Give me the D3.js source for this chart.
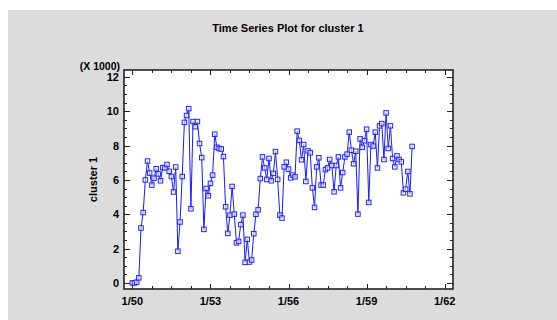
<!DOCTYPE html>
<html>
<head>
<meta charset="utf-8">
<script src="https://cdn.jsdelivr.net/npm/d3@7"></script>
<style>
  html, body { margin: 0; padding: 0; background: #ffffff; }
  svg { display: block; }
  text { font-family: "Liberation Sans", Arial, sans-serif; font-weight: bold; fill: #000; }
</style>
</head>
<body>
<svg id="chart" width="557" height="320"></svg>
<script>
// Monthly observations starting January 1950
const startYear = 1950;
const clusterValues = [
  0, 0, 50, 300, 3200, 4100, 6000, 7100, 6400, 5700, 6100, 6650,
  6350, 5950, 6720, 6700, 6900, 6500, 6200, 5300, 6750, 1850, 3550, 6200,
  9350, 9750, 10150, 4320, 9400, 9100, 9400, 8120, 7300, 3120, 5500, 5080,
  5800, 6280, 8660, 7900, 7830, 7800, 7360, 4440, 2890, 3950, 5620, 4010,
  2340, 2420, 3400, 3950, 1200, 2540, 1220, 1340, 2870, 4000, 4260, 6080,
  7340, 6700, 6030, 7250, 5950, 6380, 7650, 6030, 3950, 3780, 6760, 7030,
  6630, 6120, 6280, 6180, 8840, 8300, 7170, 8060, 5910, 7690, 7580, 5540,
  4400, 6760, 7290, 5700, 5700, 6600, 6700, 7190, 6840, 5310, 6840, 7340,
  5540, 6430, 7340, 7500, 8780, 7730, 6940, 7670, 4010, 8390, 7900, 8280,
  8950, 4690, 8060, 7970, 8780, 6700, 9150, 9280, 7190, 9900, 7830, 9150,
  7250, 6760, 7400, 7190, 7050, 5250, 5460, 6490, 5190, 7950
];
const xTickYears = [1950, 1953, 1956, 1959, 1962];
const xTickLabels = ["1/50", "1/53", "1/56", "1/59", "1/62"];
const yTickValues = [0, 2000, 4000, 6000, 8000, 10000, 12000];

const titleText = "Time Series Plot for cluster 1";
const yAxisTitle = "cluster 1";
const yScaleNote = "(X 1000)";

const series = clusterValues.map((v, i) => ({ t: startYear + i / 12, v }));

const svg = d3.select("#chart");
const W = 557, H = 320;
const plot = { left: 124, right: 453, top: 70, bottom: 289 };

// panel background
svg.append("rect").attr("x", 8).attr("y", 10).attr("width", W - 8).attr("height", H - 10)
  .attr("fill", "#dcdcdc");

const x = d3.scaleLinear().domain([1949.68, 1962.32]).range([plot.left, plot.right]);
const y = d3.scaleLinear().domain([-350, 12400]).range([plot.bottom, plot.top]);

// plotting area
svg.append("rect")
  .attr("x", plot.left).attr("y", plot.top)
  .attr("width", plot.right - plot.left).attr("height", plot.bottom - plot.top)
  .attr("fill", "#ffffff");

const xMinor = d3.range(1950, 1962.01, 0.75);
const yMinor = d3.range(0, 12001, 500);

const tickColor = "#222";
const ticks = svg.append("g").attr("stroke", tickColor).attr("stroke-width", 1);

// x ticks (bottom and top, pointing inward)
xMinor.forEach(t => {
  const major = xTickYears.some(m => Math.abs(m - t) < 1e-6);
  const len = major ? 5 : 3;
  const px = Math.round(x(t)) + 0.5;
  ticks.append("line").attr("x1", px).attr("x2", px).attr("y1", plot.bottom).attr("y2", plot.bottom - len);
  ticks.append("line").attr("x1", px).attr("x2", px).attr("y1", plot.top).attr("y2", plot.top + len);
});
// y ticks (left and right, pointing inward)
yMinor.forEach(v => {
  const major = v % 2000 === 0;
  const len = major ? 6 : 3;
  const py = Math.round(y(v)) + 0.5;
  ticks.append("line").attr("x1", plot.left).attr("x2", plot.left + len).attr("y1", py).attr("y2", py);
  ticks.append("line").attr("x1", plot.right).attr("x2", plot.right - len).attr("y1", py).attr("y2", py);
});

// frame
svg.append("rect")
  .attr("x", plot.left).attr("y", plot.top)
  .attr("width", plot.right - plot.left).attr("height", plot.bottom - plot.top)
  .attr("fill", "none").attr("stroke", "#222").attr("stroke-width", 1.6);

// tick labels
svg.append("g").selectAll("text").data(xTickYears).join("text")
  .attr("x", d => x(d)).attr("y", 305)
  .attr("text-anchor", "middle").attr("font-size", 11)
  .text((d, i) => xTickLabels[i]);

svg.append("g").selectAll("text").data(yTickValues).join("text")
  .attr("x", 119).attr("y", d => y(d) + 4)
  .attr("text-anchor", "end").attr("font-size", 11)
  .text(d => d3.format("d")(d / 1000));

svg.append("text").attr("x", 120).attr("y", 70)
  .attr("text-anchor", "end").attr("font-size", 10.5).text(yScaleNote);

svg.append("text").attr("x", 288).attr("y", 32)
  .attr("text-anchor", "middle").attr("font-size", 11).text(titleText);

svg.append("text")
  .attr("transform", `translate(97,${(plot.top + plot.bottom) / 2}) rotate(-90)`)
  .attr("text-anchor", "middle").attr("font-size", 11).text(yAxisTitle);

// series line and square markers
const line = d3.line().x(d => x(d.t)).y(d => y(d.v));
svg.append("path").datum(series)
  .attr("d", line).attr("fill", "none")
  .attr("stroke", "#1a1aff").attr("stroke-width", 1);

const s = 4.5;
svg.append("g").selectAll("rect").data(series).join("rect")
  .attr("x", d => x(d.t) - s / 2).attr("y", d => y(d.v) - s / 2)
  .attr("width", s).attr("height", s)
  .attr("fill", "#eef0ff").attr("fill-opacity", 0.6)
  .attr("stroke", "#2222ff").attr("stroke-width", 1);
</script>
</body>
</html>
